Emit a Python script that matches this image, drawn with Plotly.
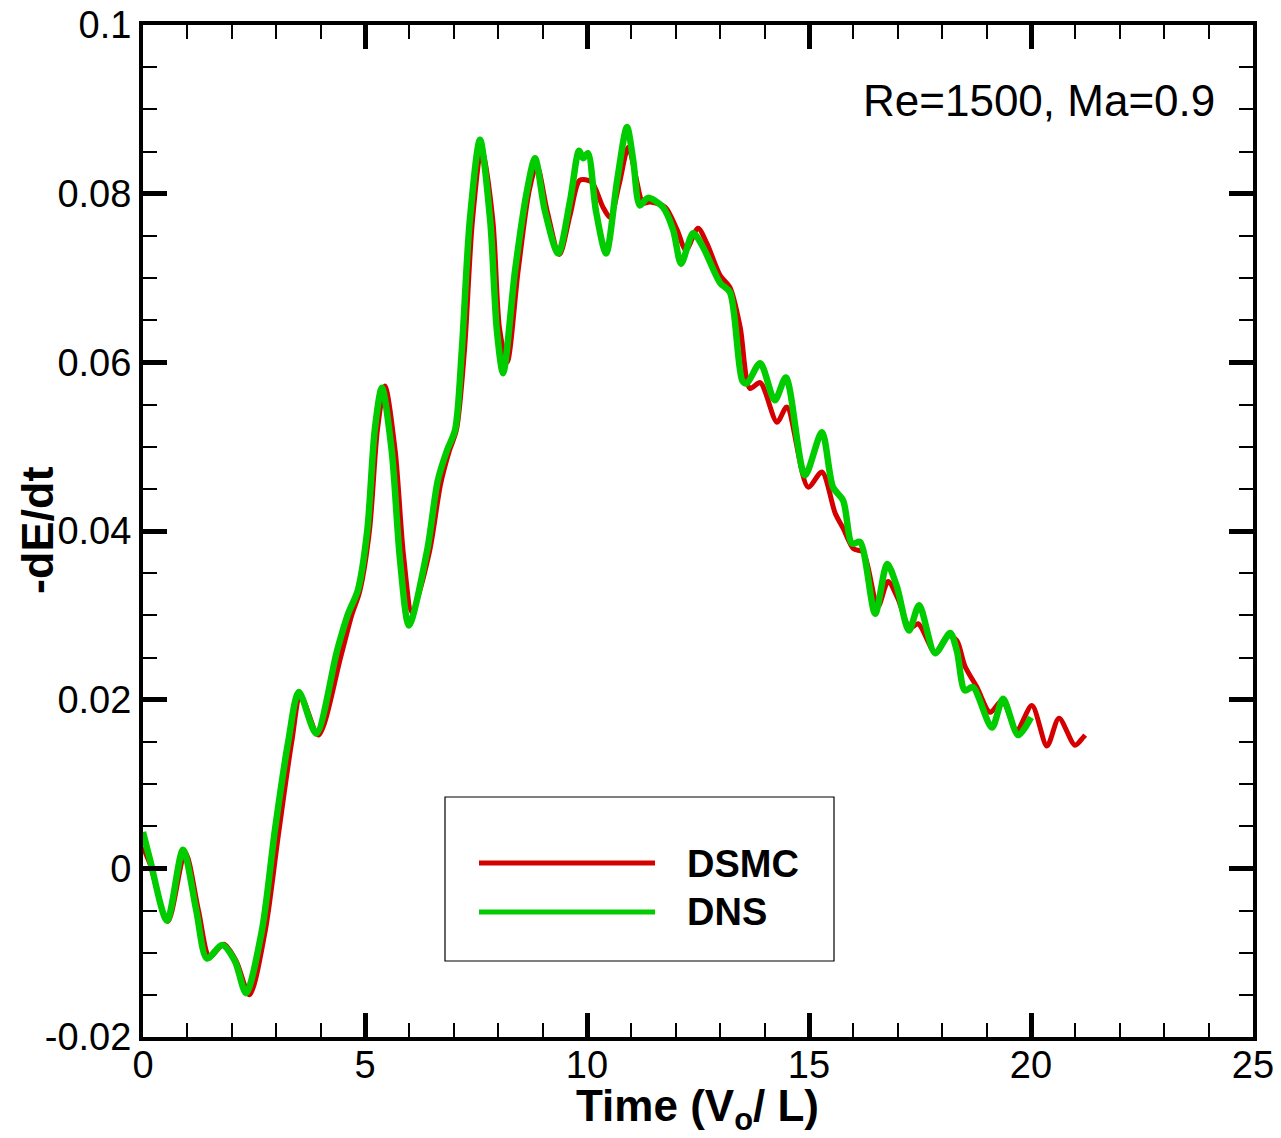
import plotly.graph_objects as go

# DSMC (red) series
dsmc_t = [0.0, 0.16, 0.56, 0.95, 1.25, 1.5, 1.82, 2.1, 2.4, 2.75, 3.05, 3.35, 3.55, 3.95,
          4.45, 4.7, 4.88, 5.1, 5.28, 5.45, 5.68, 5.87, 6.06, 6.45, 6.7, 6.9, 7.06, 7.24,
          7.42, 7.63, 7.88, 8.03, 8.2, 8.45, 8.7, 8.87, 9.1, 9.38, 9.62, 9.84, 10.1, 10.36,
          10.52, 10.72, 10.93, 11.1, 11.26, 11.42, 11.76, 12.03, 12.23, 12.5, 12.7, 13.0,
          13.22, 13.45, 13.67, 13.9, 14.28, 14.5, 14.98, 15.29, 15.59, 15.77, 16.0, 16.22,
          16.55, 16.78, 17.0, 17.27, 17.46, 17.84, 18.13, 18.33, 18.51, 18.78, 19.08, 19.35,
          19.68, 20.02, 20.36, 20.63, 20.99, 21.17, 21.22]
dsmc_v = [0.0025, 0.0005, -0.0063, 0.0019, -0.005, -0.0105, -0.009, -0.011, -0.015, -0.0075,
          0.004, 0.015, 0.0205, 0.0158, 0.025, 0.030, 0.0328, 0.040, 0.052, 0.0572, 0.0495,
          0.037, 0.0304, 0.0375, 0.0455, 0.0495, 0.052, 0.0614, 0.0768, 0.0855, 0.0768,
          0.064, 0.060, 0.0709, 0.0804, 0.0834, 0.078, 0.0728, 0.0775, 0.0816, 0.0814,
          0.0784, 0.0772, 0.081, 0.0855, 0.082, 0.0789, 0.079, 0.0784, 0.0757, 0.0733,
          0.0759, 0.0741, 0.0703, 0.0689, 0.0642, 0.0569, 0.0576, 0.0529, 0.0547, 0.0452,
          0.047, 0.0421, 0.0403, 0.0379, 0.0375, 0.031, 0.034, 0.032, 0.0285, 0.029, 0.0256,
          0.0276, 0.027, 0.024, 0.0215, 0.0185, 0.0199, 0.0164, 0.0193, 0.0145, 0.0178,
          0.0146, 0.0155, 0.0158]

# DNS (green) series
dns_t = [0.0, 0.16, 0.54, 0.9, 1.2, 1.44, 1.78, 2.07, 2.32, 2.68, 2.97, 3.27, 3.51, 3.9,
         4.37, 4.62, 4.84, 5.05, 5.22, 5.38, 5.6, 5.79, 5.99, 6.4, 6.64, 6.85, 7.03, 7.18,
         7.36, 7.59, 7.82, 7.97, 8.11, 8.38, 8.65, 8.83, 9.05, 9.35, 9.62, 9.82, 9.91, 10.02,
         10.2, 10.43, 10.68, 10.9, 11.04, 11.19, 11.37, 11.71, 11.94, 12.12, 12.39, 12.61,
         13.0, 13.22, 13.5, 13.6, 13.9, 14.23, 14.48, 14.91, 15.29, 15.54, 15.77, 15.97,
         16.15, 16.49, 16.76, 16.98, 17.25, 17.48, 17.84, 18.18, 18.33, 18.51, 18.69, 19.12,
         19.37, 19.71, 20.0]
dns_v = [0.0043, 0.001, -0.0062, 0.0022, -0.005, -0.0107, -0.0091, -0.011, -0.0148, -0.0073,
         0.0045, 0.015, 0.0209, 0.016, 0.0258, 0.0302, 0.033, 0.040, 0.052, 0.057, 0.0496,
         0.0365, 0.0288, 0.0377, 0.046, 0.0496, 0.052, 0.0614, 0.0768, 0.0864, 0.0768,
         0.0638, 0.0587, 0.0709, 0.0804, 0.0842, 0.078, 0.0729, 0.0792, 0.0851, 0.0842,
         0.0848, 0.078, 0.0729, 0.0816, 0.0879, 0.084, 0.0786, 0.0795, 0.0784, 0.0757,
         0.0717, 0.0753, 0.0737, 0.0694, 0.0683, 0.0578, 0.0575, 0.0599, 0.0555, 0.0582,
         0.0466, 0.0517, 0.0452, 0.0436, 0.0385, 0.0387, 0.0302, 0.0361, 0.0334, 0.0282,
         0.0312, 0.0255, 0.0279, 0.0258, 0.0211, 0.0215, 0.0167, 0.0201, 0.0158, 0.0179]

x_ticks = [0, 5, 10, 15, 20, 25]
y_ticks = [-0.02, 0, 0.02, 0.04, 0.06, 0.08, 0.1]
y_tick_text = ["-0.02", "0", "0.02", "0.04", "0.06", "0.08", "0.1"]
series_names = ["DSMC", "DNS"]
RED = "#d40000"
GREEN = "#00cc00"
FONT = "Liberation Sans, Arial, Helvetica, sans-serif"

fig = go.Figure()
fig.add_trace(go.Scatter(x=dsmc_t, y=dsmc_v, mode="lines", name=series_names[0],
                         line=dict(color=RED, width=5, shape="spline", smoothing=0.8)))
fig.add_trace(go.Scatter(x=dns_t, y=dns_v, mode="lines", name=series_names[1],
                         line=dict(color=GREEN, width=6.5, shape="spline", smoothing=0.8)))

axis_common = dict(
    showgrid=False, zeroline=False, showline=True, linecolor="black", linewidth=4,
    mirror="allticks", ticks="inside", ticklen=24, tickwidth=5, tickcolor="black",
    tickfont=dict(family=FONT, size=38, color="black"),
)
fig.update_xaxes(range=[0, 25], tickvals=x_ticks, ticktext=[str(v) for v in x_ticks],
                 ticklabelstandoff=-9,
                 minor=dict(dtick=1, ticks="inside", ticklen=14, tickwidth=1.5, tickcolor="black"),
                 **axis_common)
fig.update_yaxes(range=[-0.02, 0.1], tickvals=y_ticks, ticktext=y_tick_text,
                 minor=dict(dtick=0.005, ticks="inside", ticklen=14, tickwidth=1.5, tickcolor="black"),
                 **axis_common)

def px2paper_x(px):
    return (px - 143) / 1110.0

def px2paper_y(py):
    return (1037 - py) / 1012.0

shapes = [
    dict(type="rect", xref="paper", yref="paper",
         x0=px2paper_x(445), x1=px2paper_x(834), y0=px2paper_y(961), y1=px2paper_y(797),
         line=dict(color="black", width=1.2), fillcolor="white", layer="above"),
    dict(type="line", xref="paper", yref="paper",
         x0=px2paper_x(479), x1=px2paper_x(655), y0=px2paper_y(863), y1=px2paper_y(863),
         line=dict(color=RED, width=5), layer="above"),
    dict(type="line", xref="paper", yref="paper",
         x0=px2paper_x(479), x1=px2paper_x(655), y0=px2paper_y(912), y1=px2paper_y(912),
         line=dict(color=GREEN, width=5), layer="above"),
]

annotations = [
    dict(text="<b>%s</b>" % series_names[0], xref="paper", yref="paper",
         x=px2paper_x(685), y=px2paper_y(864), xanchor="left", yanchor="middle",
         showarrow=False, font=dict(family=FONT, size=38, color="black")),
    dict(text="<b>%s</b>" % series_names[1], xref="paper", yref="paper",
         x=px2paper_x(685), y=px2paper_y(912), xanchor="left", yanchor="middle",
         showarrow=False, font=dict(family=FONT, size=38, color="black")),
    dict(text="Re=1500, Ma=0.9", xref="paper", yref="paper",
         x=px2paper_x(1217), y=px2paper_y(100), xanchor="right", yanchor="middle",
         showarrow=False, font=dict(family=FONT, size=44, color="black")),
    dict(text="<b>Time (V<sub>o</sub>/ L)</b>", xref="paper", yref="paper",
         x=px2paper_x(697), y=px2paper_y(1109), xanchor="center", yanchor="middle",
         showarrow=False, font=dict(family=FONT, size=44, color="black")),
    dict(text="<b>-dE/dt</b>", xref="paper", yref="paper", textangle=-90,
         x=px2paper_x(37), y=px2paper_y(531), xanchor="center", yanchor="middle",
         showarrow=False, font=dict(family=FONT, size=45, color="black")),
]

fig.update_layout(
    width=1281, height=1138,
    margin=dict(l=143, r=28, t=25, b=101, autoexpand=False),
    paper_bgcolor="white", plot_bgcolor="white",
    showlegend=False, shapes=shapes, annotations=annotations,
    font=dict(family=FONT, color="black"),
)

fig.write_html("out.html")
